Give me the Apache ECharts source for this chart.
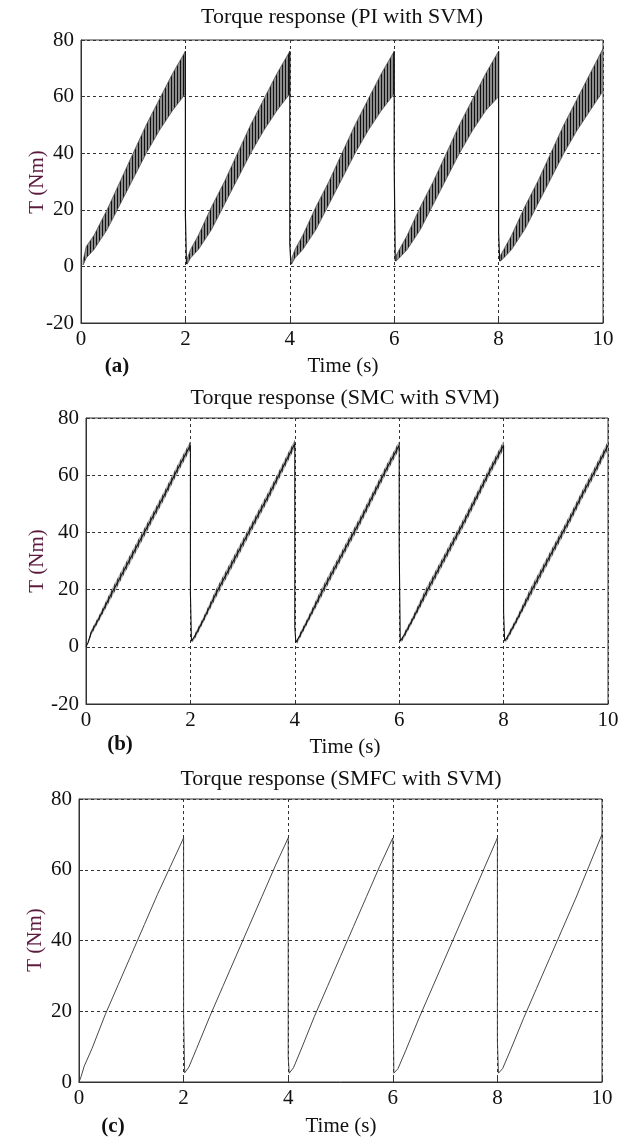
<!DOCTYPE html>
<html>
<head>
<meta charset="utf-8">
<script src="https://cdn.jsdelivr.net/npm/echarts@6/dist/echarts.min.js"></script>
<style>html,body{margin:0;padding:0;background:#fff}#c{width:623px;height:1142px}</style>
</head>
<body>
<div id="c"></div>
<script>
// ---------- data ----------
const xTicks = [0, 2, 4, 6, 8, 10];
const yTicksAB = [-20, 0, 20, 40, 60, 80];
const yTicksC = [0, 20, 40, 60, 80];
const titles = ['Torque response (PI with SVM)', 'Torque response (SMC with SVM)', 'Torque response (SMFC with SVM)'];
const panelTags = ['(a)', '(b)', '(c)'];

// start time of every ramp and sample times (s) inside one ramp
const cycleStart = [0, 2, 4, 6, 8];
const rampT = [0.04, 0.1, 0.25, 0.5, 0.75, 1.0, 1.25, 1.5, 1.75, 2.0];

// drops at the end of each ramp
const dropT = [2, 4, 6, 8];
const dropDt = [0, 0, 0.008, 0.02];

// (a) PI with SVM : oscillation band
const piLow = [
  [0.5, 3, 6, 13, 22, 31, 40, 48, 55, 61],
  [1, 3, 6, 13, 22, 31, 40, 48, 55, 61],
  [1, 3, 6, 13, 22, 31, 40, 48, 55, 61],
  [2, 3, 6, 13, 22, 31, 40, 48, 55, 60],
  [2, 3, 6, 13, 22, 31, 40, 48, 55, 62]
];
const piHigh = [
  [2, 7, 11, 20, 30, 40, 50, 59, 68, 76],
  [3, 6, 11, 21, 30, 40, 50, 59, 68, 76],
  [3, 6, 11, 21, 30, 40, 50, 59, 68, 76],
  [4, 6, 11, 21, 30, 40, 50, 59, 68, 76],
  [4, 6, 11, 21, 30, 40, 50, 59, 68, 77]
];
const piSpike = [18, 8, 36, 12];
const piMin = [1, 1, 2, 2];

// (b) SMC with SVM
const smcMid = [
  [1.5, 5, 10, 19, 27.5, 36, 44.5, 53, 62, 70.5],
  [2, 4.2, 9.5, 19, 27.5, 36, 44.5, 53, 62, 71],
  [1.5, 4, 9.3, 18.5, 27, 35.5, 44, 53, 62, 70.5],
  [2, 4.2, 9.3, 18.5, 27, 35.5, 44, 53, 62, 70.5],
  [2, 4.2, 9.3, 18.5, 27, 35.5, 44, 53, 61.5, 70.5]
];
const smcLow = [
  [1, 4, 9, 17.5, 26, 34.5, 43, 51.5, 60.5, 69],
  [1.5, 3.2, 8.5, 17.5, 26, 34.5, 43, 51.5, 60.5, 69.5],
  [1, 3, 8.3, 17, 25.5, 34, 42.5, 51.5, 60.5, 69],
  [1.5, 3.2, 8.3, 17, 25.5, 34, 42.5, 51.5, 60.5, 69],
  [1.5, 3.2, 8.3, 17, 25.5, 34, 42.5, 51.5, 60, 69]
];
const smcHigh = [
  [2, 6, 11, 20.5, 29, 37.5, 46, 54.5, 63.5, 72],
  [2.5, 5.2, 10.5, 20.5, 29, 37.5, 46, 54.5, 63.5, 72.5],
  [2, 5, 10.3, 20, 28.5, 37, 45.5, 54.5, 63.5, 72],
  [2.5, 5.2, 10.3, 20, 28.5, 37, 45.5, 54.5, 63.5, 72],
  [2.5, 5.2, 10.3, 20, 28.5, 37, 45.5, 54.5, 63, 72]
];
const smcSpike = [19, 7, 35, 12];
const smcMin = [2, 1.5, 2, 2];

// (c) SMFC with SVM
const smfcVal = [
  [1.5, 4.5, 9.5, 19, 27.5, 36, 44.5, 53, 61, 69],
  [2.6, 4.2, 9.5, 18.5, 27, 35.5, 44, 52.5, 61, 69],
  [2.5, 4, 9.3, 18.5, 27, 35.5, 44, 52.5, 61, 69],
  [2.5, 3.8, 9, 18, 26.5, 35, 43.5, 52, 60.5, 69],
  [2.5, 3.8, 9, 18, 26.5, 35, 43.5, 52, 61, 70]
];
const smfcSpike = [19, 7, 35, 11.5];
const smfcMin = [2.6, 2.5, 2.5, 2.5];

// ---------- helpers ----------
function stripePattern(bg, fg, w) {
  const cv = document.createElement('canvas');
  cv.width = w; cv.height = 4;
  const g = cv.getContext('2d');
  g.fillStyle = bg; g.fillRect(0, 0, w, 4);
  g.fillStyle = fg; g.fillRect(0, 0, 1, 4);
  return { image: cv, repeat: 'repeat' };
}

function tracePath(vals, spikes, mins) {
  const d = [[0, 0]];
  for (let k = 0; k < cycleStart.length; k++) {
    for (let j = 0; j < rampT.length; j++) d.push([cycleStart[k] + rampT[j], vals[k][j]]);
    if (k < dropT.length) {
      const seq = [vals[k][rampT.length - 1], spikes[k], spikes[k], mins[k]];
      for (let m = 1; m < seq.length; m++) d.push([dropT[k] + dropDt[m], seq[m]]);
    }
  }
  return d;
}

function dropPath(high, low, spikes, mins) {
  const d = [];
  for (let k = 0; k < dropT.length; k++) {
    const seq = [high[k][rampT.length - 1], spikes[k], spikes[k], mins[k]];
    for (let m = 0; m < seq.length; m++) d.push([dropT[k] + dropDt[m], seq[m]]);
    d.push([cycleStart[k + 1] + rampT[0], low[k + 1][0]]);
    d.push([dropT[k] + 0.05, '-']);
  }
  return d;
}

function bandSeries(idx, low, high, fill, stroke) {
  return {
    type: 'custom', xAxisIndex: idx, yAxisIndex: idx, silent: true, z: 3, clip: true,
    data: cycleStart.map((s, i) => [s, 0]),
    renderItem: function (params, api) {
      const k = params.dataIndex;
      const pts = [];
      for (let j = 0; j < rampT.length; j++) pts.push(api.coord([cycleStart[k] + rampT[j], high[k][j]]));
      for (let j = rampT.length - 1; j >= 0; j--) pts.push(api.coord([cycleStart[k] + rampT[j], low[k][j]]));
      return { type: 'polygon', shape: { points: pts }, style: { fill: fill, stroke: stroke, lineWidth: 0.8 } };
    }
  };
}

// ---------- layout ----------
const FONT = '"Liberation Serif","Times New Roman",serif';
const grids = [
  { left: 81, top: 40, width: 522, height: 283 },
  { left: 86, top: 418, width: 522, height: 286 },
  { left: 79, top: 799, width: 523, height: 283 }
];
const yRanges = [[-20, 80], [-20, 80], [0, 80]];

const xAxes = grids.map((g, i) => ({
  type: 'value', gridIndex: i, min: xTicks[0], max: xTicks[xTicks.length - 1], interval: 2,
  axisLine: { show: true, onZero: false, lineStyle: { color: '#333', width: 1 } },
  axisTick: { show: true, inside: true, length: 4, lineStyle: { color: '#333' } },
  axisLabel: { color: '#111', fontFamily: FONT, fontSize: 21, margin: 6 },
  splitLine: { show: true, lineStyle: { color: '#333', type: [3, 3], width: 1 } }
}));
const yAxes = grids.map((g, i) => ({
  type: 'value', gridIndex: i, min: yRanges[i][0], max: yRanges[i][1], interval: 20,
  axisLine: { show: true, onZero: false, lineStyle: { color: '#333', width: 1 } },
  axisTick: { show: true, inside: true, length: 4, lineStyle: { color: '#333' } },
  axisLabel: { color: '#111', fontFamily: FONT, fontSize: 21, margin: 7 },
  splitLine: { show: true, lineStyle: { color: '#333', type: [3, 3], width: 1 } }
}));

const titlePos = [[342, 17], [345, 398], [341, 779]];
const timePos = [[343, 366], [345, 747], [341, 1126]];
const tnmPos = [[37, 182], [37, 561], [35, 940]];
const tagPos = [[117, 367], [120, 745], [113, 1127]];

const graphics = [];
for (let i = 0; i < 3; i++) {
  graphics.push({ type: 'text', x: titlePos[i][0], y: titlePos[i][1], style: { text: titles[i], font: '22px ' + FONT, fill: '#111', align: 'center', verticalAlign: 'middle' } });
  graphics.push({ type: 'text', x: timePos[i][0], y: timePos[i][1], style: { text: 'Time (s)', font: '21px ' + FONT, fill: '#111', align: 'center', verticalAlign: 'middle' } });
  graphics.push({ type: 'text', x: tnmPos[i][0], y: tnmPos[i][1], rotation: Math.PI / 2, style: { text: 'T (Nm)', font: '21px ' + FONT, fill: '#5b1a3e', align: 'center', verticalAlign: 'middle' } });
  graphics.push({ type: 'text', x: tagPos[i][0], y: tagPos[i][1], style: { text: panelTags[i], font: 'bold 21px ' + FONT, fill: '#111', align: 'center', verticalAlign: 'middle' } });
}

const chart = echarts.init(document.getElementById('c'), null, { renderer: 'canvas' });
chart.setOption({
  animation: false,
  backgroundColor: '#fff',
  grid: grids.map(g => Object.assign({ show: true, borderColor: '#333', borderWidth: 1, backgroundColor: 'transparent' }, g)),
  xAxis: xAxes,
  yAxis: yAxes,
  graphic: graphics,
  series: [
    bandSeries(0, piLow, piHigh, stripePattern('#8c8c8c', '#111', 3), '#555'),
    { type: 'line', xAxisIndex: 0, yAxisIndex: 0, data: dropPath(piHigh, piLow, piSpike, piMin), showSymbol: false, symbol: 'none', connectNulls: false, lineStyle: { color: '#111', width: 1.2 }, z: 4, silent: true },
    bandSeries(1, smcLow, smcHigh, stripePattern('#a8a8a8', '#444', 3), 'transparent'),
    { type: 'line', xAxisIndex: 1, yAxisIndex: 1, data: tracePath(smcMid, smcSpike, smcMin), showSymbol: false, symbol: 'none', lineStyle: { color: '#111', width: 1.1 }, z: 4, silent: true },
    { type: 'line', xAxisIndex: 2, yAxisIndex: 2, data: tracePath(smfcVal, smfcSpike, smfcMin), showSymbol: false, symbol: 'none', lineStyle: { color: '#333', width: 0.9 }, z: 4, silent: true }
  ]
});
</script>
</body>
</html>
